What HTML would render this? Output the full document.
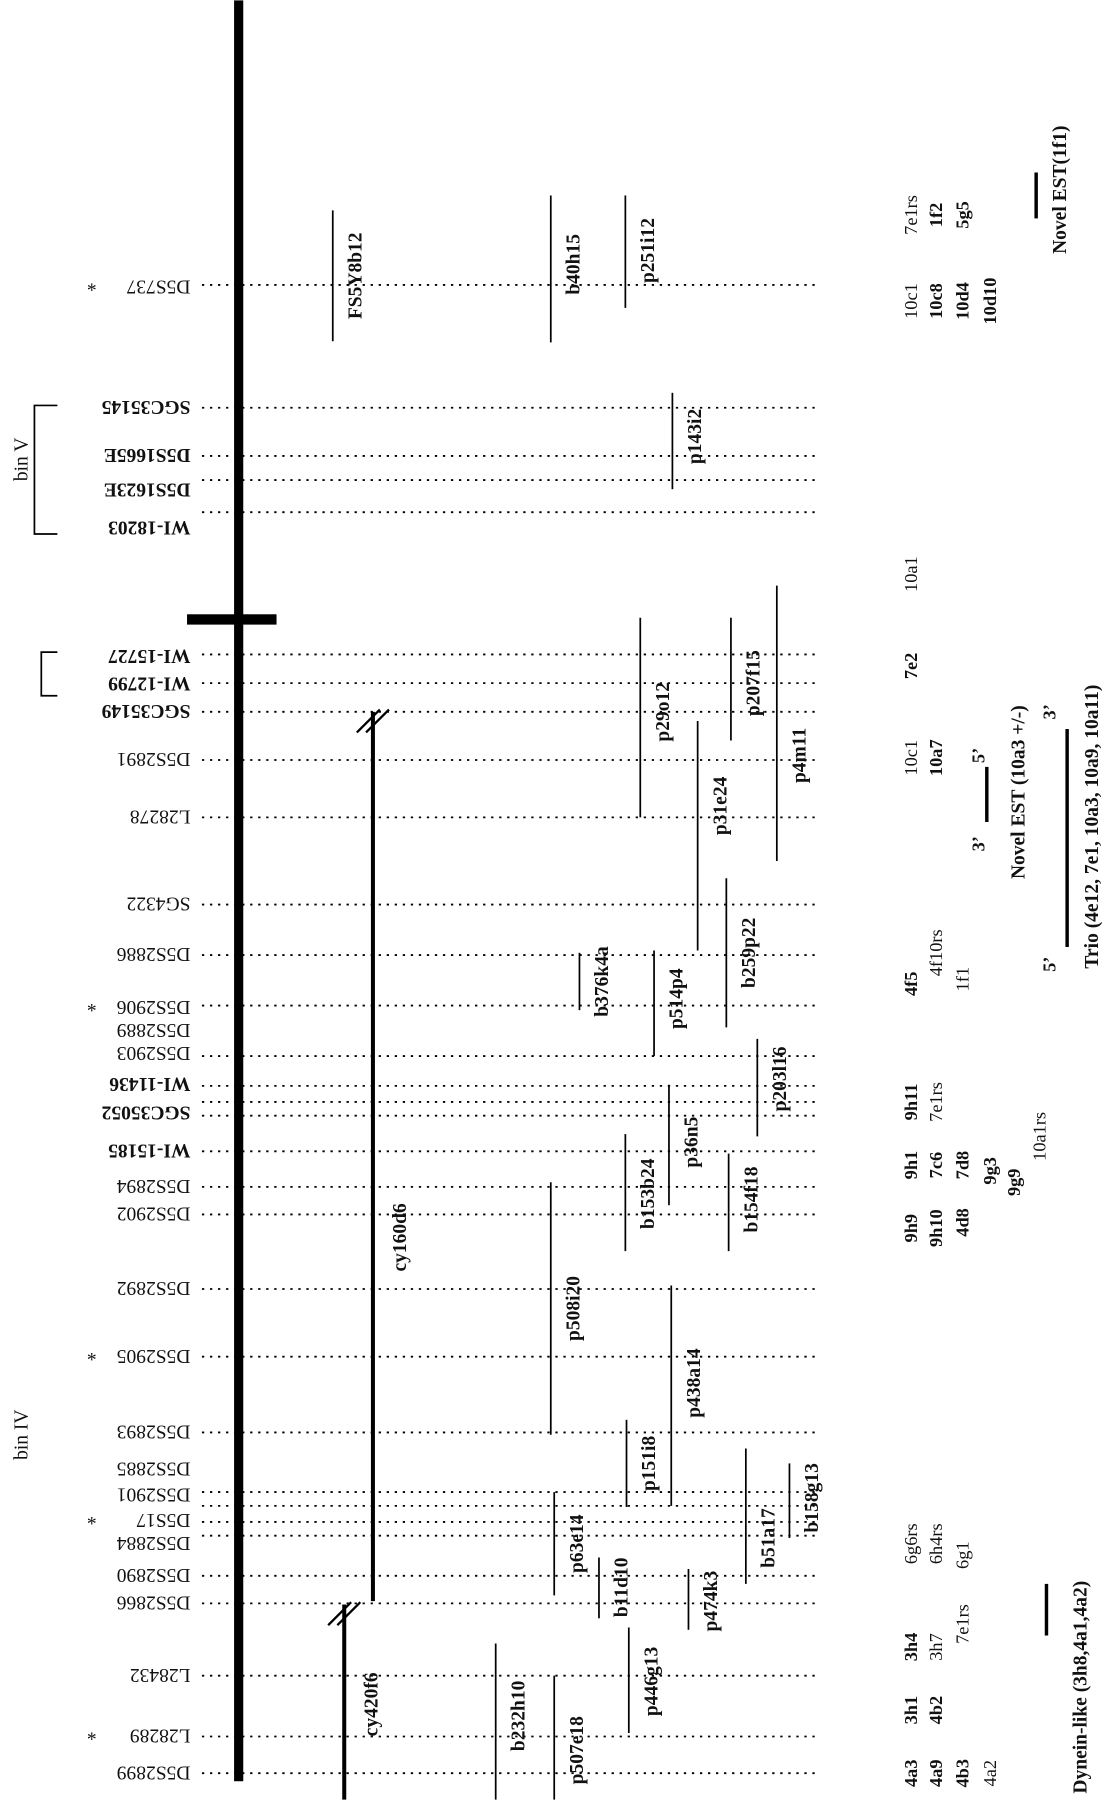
<!DOCTYPE html>
<html><head><meta charset="utf-8">
<style>
html,body{margin:0;padding:0;background:#fff;}
svg{display:block;}
text{font-family:"Liberation Serif",serif;fill:#111;}
</style></head>
<body>
<svg id="map" width="1105" height="1800" viewBox="0 0 963 1568" xmlns="http://www.w3.org/2000/svg">
<g id="g"></g>
</svg>
<script>
// markers: name, y position on map, bold flag, star flag
const markerNames = ["D5S737","SGC35145","D5S1665E","D5S1623E","WI-18203","WI-15727","WI-12799","SGC35149","D5S2891","L28278","SG4322","D5S2886","D5S2906","D5S2903","WI-11436","SGC35052","WI-15185","D5S2894","D5S2902","D5S2892","D5S2905","D5S2893","D5S2901","D5S17","D5S2884","D5S2890","D5S2866","L28432","L28289","D5S2899"];
const markerPos = [248,355,397,418,446,570,595,620,662,712,788,832,876,920,946,972,1003,1034,1058,1123,1182,1248,1300,1326,1338,1373,1397,1460,1513,1545];
const markerLabelPos = [250,355,397,427,460,572,596,620,662,712,788,832,878,918,945,970,1003,1034,1058,1123,1182,1248,1303,1325,1345,1373,1397,1460,1513,1545];
const markerBold = [0,1,1,1,1,1,1,1,0,0,0,0,0,0,1,1,1,0,0,0,0,0,0,0,0,0,0,0,0,0];
const markerStar = [1,0,0,0,0,0,0,0,0,0,0,0,1,0,0,0,0,0,0,0,1,0,0,1,0,0,0,0,1,0];
const extraLines = [960,1312];
const extraLabels = [["D5S2889",898],["D5S2885",1280]];
// clones: name, x, start, end, label y
const cloneNames = ["FS5Y8b12","b40h15","p251i12","p143i2","p29o12","p207f15","p4m11","p31e24","b259p22","b376k4a","p514p4","p203l16","p36n5","b153b24","b154f18","p508i20","p438a14","p151i8","b51a17","b158g13","p63e14","b11d10","p474k3","p446g13","b232h10","p507e18"];
const cloneX = [290,480,545,586,558,637,677,608,633,505,570,660,583,545,635,480,585,546,650,688,483,522,600,548,432,483];
const cloneStart = [183,170,170,342,538,538,510,628,765,830,828,905,945,988,1005,1030,1120,1237,1262,1275,1300,1357,1367,1418,1432,1460];
const cloneEnd = [297,298,268,426,712,645,750,828,895,880,920,990,1050,1090,1090,1250,1312,1313,1380,1340,1390,1410,1420,1510,1568,1568];
const cloneLabelY = [240,230,218,380,620,595,658,702,830,855,870,940,995,1040,1045,1140,1205,1275,1340,1305,1345,1383,1395,1465,1495,1525];
// long YAC clones
const yacNames = ["cy160d6","cy420f6"];
const yacX = [325,300];
const yacStart = [620,1398];
const yacEnd = [1395,1568];
const yacLabelY = [1078,1485];
// right-hand clone list columns
const listText = ["10c1","7e1rs","10c8","1f2","10d4","5g5","10d10","10a1","7e2","10c1","10a7","4f5","4f10rs","1f1","9h11","7e1rs","10a1rs","9h1","7c6","7d8","9g3","9g9","9h9","9h10","4d8","6g6rs","6h4rs","6g1","3h4","3h7","7e1rs","3h1","4b2","4a3","4a9","4b3","4a2"];
const listX = [793,793,815,815,838,838,862,793,793,793,815,793,815,838,793,815,905,793,815,838,862,883,793,815,838,793,815,838,793,815,838,793,815,793,815,838,862];
const listY = [262,187,262,187,262,187,262,500,580,660,660,857,830,853,960,960,990,1015,1015,1015,1020,1030,1070,1070,1065,1345,1345,1355,1435,1435,1415,1490,1490,1545,1545,1545,1545];
const listBold = [0,0,1,1,1,1,1,0,1,0,1,1,0,0,1,0,0,1,1,1,1,1,1,1,1,0,0,0,1,0,0,1,1,1,1,1,0];

const NS="http://www.w3.org/2000/svg";
const g=document.getElementById('g');
function mk(tag,attrs,parent){const e=document.createElementNS(NS,tag);for(const k in attrs)e.setAttribute(k,attrs[k]);(parent||g).appendChild(e);return e;}
function txt(s,x,y,size,bold,rot,anchor){const t=mk('text',{x:x,y:y,'font-size':size,'font-weight':bold?'bold':'normal','text-anchor':anchor||'middle',transform:'rotate('+rot+' '+x+' '+y+')'});t.textContent=s;return t;}

let e=mk('rect',{x:204,y:0,width:8,height:1552,fill:'#000'});


e=mk('rect',{x:163,y:535,width:78,height:9,fill:'#000'});



markerNames.forEach((n,i)=>{
  const y=markerPos[i];
  let l=mk('line',{x1:176,y1:y,x2:712,y2:y,stroke:'#000','stroke-width':1.6,'stroke-dasharray':'2,5'});
  
  
  const ly=markerLabelPos[i];
  let t=txt(n,166,ly-6,17,markerBold[i],180,'start');
  
  
  if(markerStar[i]){let s=txt('*',80,ly+8,17,0,0);
    
    }
});
extraLines.forEach(y=>{let l=mk('line',{x1:176,y1:y,x2:712,y2:y,stroke:'#000','stroke-width':1.6,'stroke-dasharray':'2,5'});
  
  });
extraLabels.forEach(a=>{let t=txt(a[0],166,a[1]-6,17,0,180,'start');
  
  });

cloneNames.forEach((n,i)=>{
  let l=mk('line',{x1:cloneX[i],y1:cloneStart[i],x2:cloneX[i],y2:cloneEnd[i],stroke:'#000','stroke-width':1.5});
  
  
  let t=txt(n,cloneX[i]+25,cloneLabelY[i],17,1,-90);
  
  
});
yacNames.forEach((n,i)=>{
  const x=yacX[i];
  let l=mk('line',{x1:x,y1:yacStart[i],x2:x,y2:yacEnd[i],stroke:'#000','stroke-width':3.5});
  
  
  const b=yacStart[i]+8;
  [-4,4].forEach(d=>{let s=mk('line',{x1:x-10+d,y1:b+10,x2:x+10+d,y2:b-10,stroke:'#000','stroke-width':2});
    
    });
  let t=txt(n,x+29,yacLabelY[i],17,1,-90);
  
  
});

listText.forEach((s,i)=>{
  let t=txt(s,listX[i]+6,listY[i],16,listBold[i],-90);
  
  
});

e=mk('path',{d:'M50 353 H30 V465 H50',fill:'none',stroke:'#000','stroke-width':1.5});


e=mk('path',{d:'M50 568 H36 V606 H50',fill:'none',stroke:'#000','stroke-width':1.5});


e=txt('bin V',24,400,17,0,-90);


e=txt('bin IV',24,1250,17,0,-90);



function seg(x,y1,y2,name){let l=mk('line',{x1:x,y1:y1,x2:x,y2:y2,stroke:'#000','stroke-width':3});
  
  }
seg(903,150,190,'novel-est-1f1-line');
e=txt('Novel EST(1f1)',929,165,17,1,-90);


seg(860,668,716,'novel-est-10a3-line');
e=txt("5’",858,658,16,1,-90);


e=txt("3’",858,735,16,1,-90);


e=txt('Novel EST (10a3 +/-)',893,690,17,1,-90);


seg(930,635,825,'trio-line');
e=txt("3’",920,620,16,1,-90);


e=txt("5’",920,840,16,1,-90);


e=txt('Trio (4e12, 7e1, 10a3, 10a9, 10a11)',957,720,17,1,-90);


seg(912,1380,1425,'dynein-line');
e=txt('Dynein-like (3h8,4a1,4a2)',947,1470,17,1,-90);


</script>
</body></html>
